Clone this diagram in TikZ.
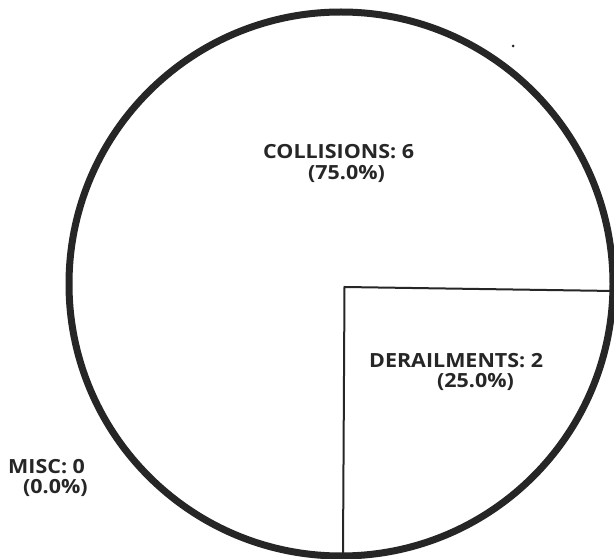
\documentclass[tikz,border=0pt]{standalone}
\usepackage{fontspec}
\setmainfont{Open Sans}[FakeStretch=1.1]
\definecolor{ink}{HTML}{262626}
\begin{document}
\begin{tikzpicture}[x=1pt,y=-1pt,
  rim/.style={line width=7pt, draw=ink},
  divider/.style={line width=2pt, draw=ink},
  lbl/.style={anchor=base west, inner sep=0pt, font=\fontsize{19.5}{20}\selectfont\bfseries, text=ink}]
\useasboundingbox (0,0) rectangle (614,559);
\fill[white] (0,0) rectangle (614,559);
\coordinate (C) at (341,284);
\coordinate (O) at (344.5,287);
\coordinate (B) at (343,553);
\coordinate (R) at (614,291);
\draw[rim] (C) circle [radius=272pt];
\draw[divider] (R) -- (O) -- (B);
\fill[ink] (513,46) circle [radius=1.5pt];
\node[lbl] (col1) at (263,159) {COLLISIONS: 6};
\node[lbl] (col2) at (308,180) {(75.0\%)};
\node[lbl] (der1) at (369,367) {DERAILMENTS: 2};
\node[lbl] (der2) at (437,387) {(25.0\%)};
\node[lbl] (misc1) at (8,473) {MISC: 0};
\node[lbl] (misc2) at (23,493) {(0.0\%)};
\end{tikzpicture}
\end{document}
